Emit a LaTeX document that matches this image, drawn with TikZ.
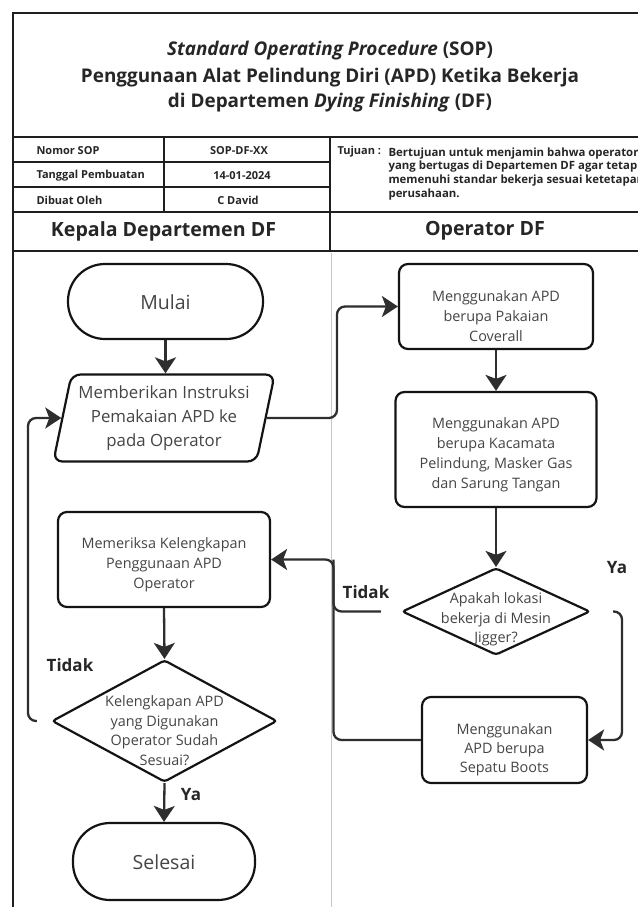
\documentclass[tikz,border=0pt]{standalone}
\usepackage{fontspec}
\setmainfont{Open Sans}
\usetikzlibrary{shapes.geometric,arrows.meta}
\definecolor{ln}{HTML}{2E2E2E}
\definecolor{tx}{HTML}{454545}
\definecolor{hd}{HTML}{262626}
\begin{document}
\begin{tikzpicture}[x=1pt,y=-1pt,
  frame/.style={draw=black!88, line width=2.2pt},
  lane/.style={draw=black!22, line width=1.8pt},
  fbox/.style={draw=black!92, line width=2.2pt, rectangle, rounded corners=9pt, inner sep=0pt},
  term/.style={fbox, rounded corners=37pt},
  dia/.style={draw=black!92, line width=2.2pt, diamond, rounded corners=3pt, inner sep=0pt},
  para/.style={draw=black!92, line width=2.2pt, trapezium, trapezium left angle=76, trapezium right angle=104, trapezium stretches=true, rounded corners=9pt, inner sep=2pt},
  ftext/.style={text=tx, align=center, font=\fontsize{14.4}{20}\selectfont},
  bigtext/.style={text=tx, align=center, font=\fontsize{19.5}{24}\selectfont},
  conn/.style={draw=ln, line width=2.3pt, -{Stealth[length=16pt,width=21pt,inset=4pt]}},
  plain/.style={draw=ln, line width=2.3pt},
  lbl/.style={text=hd, font=\bfseries\fontsize{17}{17}\selectfont},
  cell/.style={text=hd, font=\bfseries\fontsize{11}{13.8}\selectfont},
  ttl/.style={text=hd, font=\bfseries\fontsize{18.9}{24}\selectfont, anchor=base},
  lanehead/.style={text=hd, font=\bfseries\fontsize{19.6}{20}\selectfont}
]
\useasboundingbox (0,0) rectangle (637,907);
\fill[white] (0,0) rectangle (637,907);

% frame and table
\draw[frame] (12.7,907) -- (12.7,12.7) -- (660,12.7);
\draw[frame] (12.7,137) -- (660,137);
\draw[frame] (12.7,162) -- (330,162);
\draw[frame] (12.7,187) -- (330,187);
\draw[frame] (12.7,212) -- (660,212);
\draw[frame] (12.7,251) -- (660,251);
\draw[frame] (164,137) -- (164,212);
\draw[frame] (330,137) -- (330,251);
\draw[lane] (331.5,252.5) -- (331.5,907);

% title
\node[ttl] (t1) at (330,56) {\textit{Standard Operating Procedure} (SOP)};
\node[ttl] (t2) at (330,82) {Penggunaan Alat Pelindung Diri (APD) Ketika Bekerja};
\node[ttl] (t3) at (330,107) {di Departemen \textit{Dying Finishing} (DF)};

% info cells
\node[cell, anchor=west] (c1) at (33,150.5) {Nomor SOP};
\node[cell, anchor=west] (c2) at (33,175.5) {Tanggal Pembuatan};
\node[cell, anchor=west] (c3) at (33,200) {Dibuat Oleh};
\node[cell] (v1) at (239,150.5) {SOP-DF-XX};
\node[cell] (v2) at (242,175.5) {14-01-2024};
\node[cell] (v3) at (238,200) {C David};
\node[cell, anchor=west] (tj) at (334,152) {Tujuan :};
\node[cell, anchor=north west, align=left, font=\bfseries\fontsize{11.4}{13.8}\selectfont] (tjt) at (385,144) {Bertujuan untuk menjamin bahwa operator\\yang bertugas di Departemen DF agar tetap\\memenuhi standar bekerja sesuai ketetapan\\perusahaan.};

% lane headings
\node[lanehead] (h1) at (163.5,231) {Kepala Departemen DF};
\node[lanehead] (h2) at (485,231) {Operator DF};

% flow shapes
\node[term, minimum width=195pt, minimum height=75pt] (mulai) at (165.5,301.5) {};
\node[bigtext] (mulait) at (165.5,302.5) {Mulai};

\node[para, minimum width=222pt, minimum height=87pt, text=tx, align=center, font=\fontsize{16.8}{24}\selectfont] (par) at (164,418) {Memberikan Instruksi\\Pemakaian APD ke\\pada Operator};

\node[fbox, minimum width=194pt, minimum height=85pt] (b1) at (496,306.5) {};
\node[ftext] (b1t) at (496,316) {Menggunakan APD\\berupa Pakaian\\Coverall};

\node[fbox, minimum width=201pt, minimum height=115pt] (b2) at (496,449.5) {};
\node[ftext] (b2t) at (496,455) {Menggunakan APD\\berupa Kacamata\\Pelindung, Masker Gas\\dan Sarung Tangan};

\node[dia, minimum width=188pt, minimum height=87pt] (d1) at (496,611.5) {};
\node[ftext, font=\fontsize{14.4}{19.5}\selectfont] (d1t) at (496,619.5) {Apakah lokasi\\bekerja di Mesin\\Jigger?};

\node[fbox, minimum width=165pt, minimum height=86pt] (boots) at (504.5,740) {};
\node[ftext, font=\fontsize{14.4}{19}\selectfont] (bootst) at (504.5,750) {Menggunakan\\APD berupa\\Sepatu Boots};

\node[fbox, minimum width=212pt, minimum height=95pt] (mem) at (164,559.5) {};
\node[ftext] (memt) at (164,564.5) {Memeriksa Kelengkapan\\Penggunaan APD\\Operator};

\node[dia, minimum width=225pt, minimum height=122pt] (d2) at (164.5,721) {};
\node[ftext, font=\fontsize{14.4}{19.5}\selectfont] (d2t) at (164.5,730.5) {Kelengkapan APD\\yang Digunakan\\Operator Sudah\\Sesuai?};

\node[term, minimum width=182pt, minimum height=77pt] (sel) at (164,861.5) {};
\node[bigtext] (selt) at (164,862.5) {Selesai};

% helper coordinates
\coordinate (k1) at (337,0);
\coordinate (k2) at (622,0);
\coordinate (k3) at (333.5,0);
\coordinate (k4) at (28,0);

% connectors
\draw[conn] (mulai.south) -- (mulai.south |- par.north);
\draw[conn, rounded corners=8pt] (par.right side) -- (par.right side -| k1) |- (b1.west);
\draw[conn] (b1.south) -- (b2.north);
\draw[conn] (b2.south) -- (d1.north);
\draw[conn, rounded corners=8pt, shorten <=22pt] (d1.east) -- (d1.east -| k2) |- (boots.east);
\draw[conn, rounded corners=8pt] (boots.west) -- (boots.west -| k3) |- (mem.east);
\draw[plain, rounded corners=8pt, shorten <=20pt] (d1.west) -- (d1.west -| k3) -- (k3 |- mem.east);
\draw[conn] (mem.south) -- (d2.north);
\draw[conn] (d2.south) -- (sel.north);
\draw[conn, rounded corners=8pt, shorten <=14pt] (d2.west) -- (d2.west -| k4) |- (par.left side);

% branch labels
\node[lbl] (ya1) at (617,568) {Ya};
\node[lbl] (td1) at (366,592) {Tidak};
\node[lbl] (td2) at (70,665) {Tidak};
\node[lbl] (ya2) at (191,795) {Ya};
\end{tikzpicture}
\end{document}
